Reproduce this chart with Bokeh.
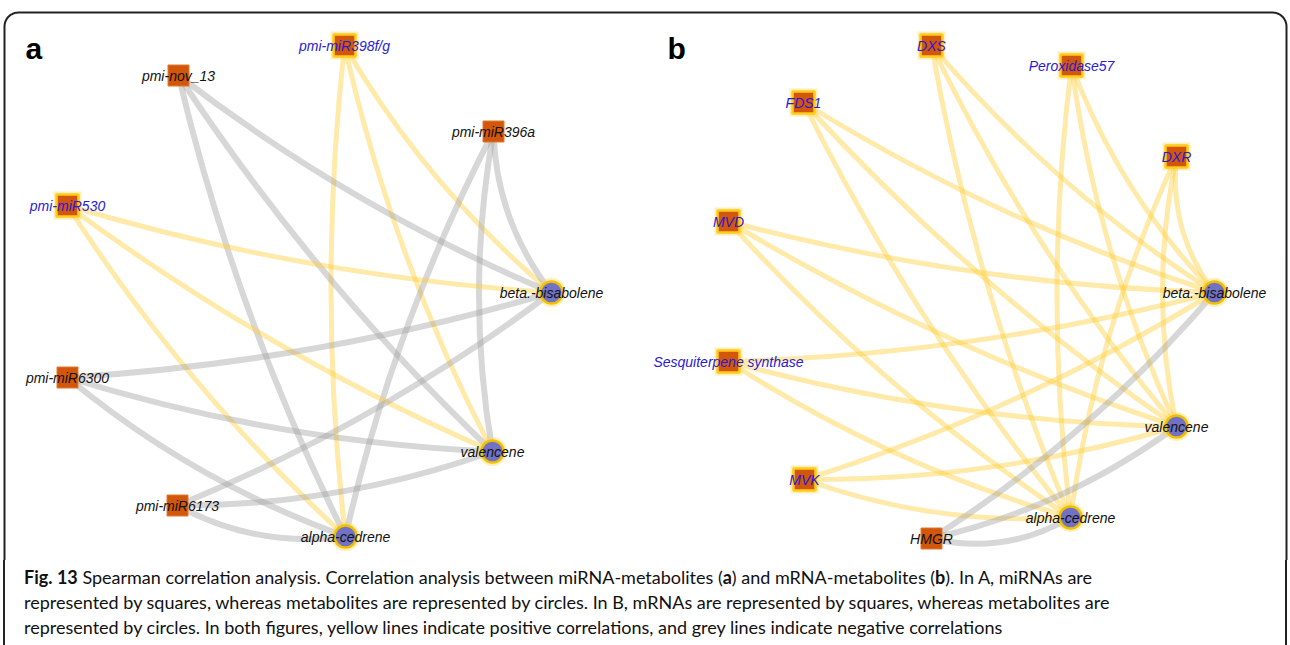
import numpy as np
from bokeh.plotting import figure
from bokeh.models import Range1d, ColumnDataSource, Div
from bokeh.layouts import column
from bokeh.embed import file_html
from bokeh.resources import INLINE
from bokeh.core.properties import value

# ---------------- data ----------------
metabolites = ["beta.-bisabolene", "valencene", "alpha-cedrene"]

# panel a : miRNA - metabolites (network layout coordinates)
a_genes = ["pmi-miR398f/g", "pmi-nov_13", "pmi-miR396a", "pmi-miR530", "pmi-miR6300", "pmi-miR6173"]
a_gene_x = [344, 178, 493, 67, 67, 177]
a_gene_y = [45, 75, 131, 205, 377, 505]
a_met_x = [551, 492, 345]
a_met_y = [292, 451, 536]
# Spearman sign of each gene-metabolite pair (+1 positive, -1 negative)
a_corr = [[1, 1, 1],
          [-1, -1, -1],
          [-1, -1, -1],
          [1, 1, 1],
          [-1, -1, -1],
          [-1, -1, -1]]

# panel b : mRNA - metabolites
b_genes = ["DXS", "Peroxidase57", "FDS1", "DXR", "MVD", "Sesquiterpene synthase", "MVK", "HMGR"]
b_gene_x = [931, 1071, 803, 1176, 728, 728, 804, 931]
b_gene_y = [45, 65, 102, 156, 221, 361, 479, 538]
b_met_x = [1214, 1176, 1070]
b_met_y = [292, 426, 517]
b_corr = [[1, 1, 1],
          [1, 1, 1],
          [1, 1, 1],
          [1, 1, 1],
          [1, 1, 1],
          [1, 1, 1],
          [1, 1, 1],
          [-1, -1, -1]]

panel_labels = ["a", "b"]
caption_line1 = [("Fig. 13", True),
                 (" Spearman correlation analysis. Correlation analysis between miRNA-metabolites (", False),
                 ("a", True), (") and mRNA-metabolites (", False), ("b", True),
                 ("). In A, miRNAs are", False)]
caption_line2 = "represented by squares, whereas metabolites are represented by circles. In B, mRNAs are represented by squares, whereas metabolites are"
caption_line3 = "represented by circles. In both figures, yellow lines indicate positive correlations, and grey lines indicate negative correlations"

# ---------------- styles ----------------
POS_EDGE = "#FFCC33"
NEG_EDGE = "#A0A0A0"
SQ_FILL = "#D2570A"
CIRC_FILL = "#7272C4"
GLOW = "#FFD84D"
BLUE = "#2A1AD6"
BLACK = "#111111"
BEND = 28.0   # control-point offset of curved edges (px)
W, H_PLOT, H_CAP = 1290, 560, 85

p = figure(width=W, height=H_PLOT, x_range=Range1d(0, W), y_range=Range1d(H_PLOT, 0),
           output_backend="svg", toolbar_location=None, x_axis_type=None, y_axis_type=None,
           min_border=0)
p.outline_line_color = None
p.background_fill_color = "white"
p.border_fill_color = "white"


def edges(gx, gy, mx, my, corr):
    d = dict(x0=[], y0=[], x1=[], y1=[], cx=[], cy=[], color=[], width=[])
    for i in range(len(gx)):
        for j in range(len(mx)):
            x0, y0, x1, y1 = gx[i], gy[i], mx[j], my[j]
            dx, dy = x1 - x0, y1 - y0
            L = np.hypot(dx, dy)
            nx, ny = -dy / L, dx / L
            d["x0"].append(x0); d["y0"].append(y0)
            d["x1"].append(x1); d["y1"].append(y1)
            d["cx"].append((x0 + x1) / 2 + BEND * nx)
            d["cy"].append((y0 + y1) / 2 + BEND * ny)
            pos = corr[i][j] > 0
            d["color"].append(POS_EDGE if pos else NEG_EDGE)
            d["width"].append(5 if pos else 6)
    return ColumnDataSource(d)


for gx, gy, mx, my, corr in [(a_gene_x, a_gene_y, a_met_x, a_met_y, a_corr),
                             (b_gene_x, b_gene_y, b_met_x, b_met_y, b_corr)]:
    src = edges(gx, gy, mx, my, corr)
    p.quadratic(x0="x0", y0="y0", x1="x1", y1="y1", cx="cx", cy="cy", source=src,
                line_color="color", line_width="width", line_alpha=0.42)


def nodes(genes, gx, gy, mx, my, corr):
    pos = [all(c > 0 for c in row) for row in corr]
    px = [x for x, q in zip(gx, pos) if q]
    py = [y for y, q in zip(gy, pos) if q]
    nx_ = [x for x, q in zip(gx, pos) if not q]
    ny_ = [y for y, q in zip(gy, pos) if not q]
    # glows
    p.scatter(px, py, marker="square", size=28, fill_color=GLOW, fill_alpha=0.4, line_color=None)
    p.scatter(mx, my, marker="circle", size=29, fill_color=GLOW, fill_alpha=0.4, line_color=None)
    # squares
    p.scatter(px, py, marker="square", size=22, fill_color=SQ_FILL, line_color="#FFCC1A", line_width=2.5)
    p.scatter(nx_, ny_, marker="square", size=21, fill_color=SQ_FILL, line_color="#E07A30", line_width=1)
    # circles
    p.scatter(mx, my, marker="circle", size=22, fill_color=CIRC_FILL, line_color="#F2C000", line_width=2.5)
    # labels
    p.text(x=list(gx), y=list(gy), text=list(genes), text_color=[BLUE if q else BLACK for q in pos],
           text_font=value("Liberation Sans"), text_font_style="italic", text_font_size="14px",
           text_align="center", text_baseline="middle")
    p.text(x=list(mx), y=list(my), text=metabolites, text_color=BLACK,
           text_font=value("Liberation Sans"), text_font_style="italic", text_font_size="14px",
           text_align="center", text_baseline="middle")


nodes(a_genes, a_gene_x, a_gene_y, a_met_x, a_met_y, a_corr)
nodes(b_genes, b_gene_x, b_gene_y, b_met_x, b_met_y, b_corr)

# panel letters
p.text(x=[25, 667], y=[48, 48], text=panel_labels, text_color="black",
       text_font=value("Liberation Sans"), text_font_style="bold", text_font_size="30px",
       text_align="left", text_baseline="middle")

# frame with rounded top corners
r = 14
L_, R_, T_, B_ = 4, 1286, 12, H_PLOT + 2
t1 = np.linspace(np.pi, 1.5 * np.pi, 12)
t2 = np.linspace(1.5 * np.pi, 2 * np.pi, 12)
fx = [L_] + list(L_ + r + r * np.cos(t1)) + list(R_ - r + r * np.cos(t2)) + [R_]
fy = [B_] + list(T_ + r + r * np.sin(t1)) + list(T_ + r + r * np.sin(t2)) + [B_]
p.line(fx, fy, line_color="#222222", line_width=2)

# caption (HTML so that bold words flow inline)
l1 = "".join(f"<b>{t}</b>" if b else t for t, b in caption_line1)
cap_html = (
    '<div style="box-sizing:border-box; width:1284px; height:85px; margin-left:3px; '
    'border-left:2px solid #222; border-right:2px solid #222; padding:5px 0 0 19px; '
    'font-family:Lato, sans-serif; font-size:18px; line-height:25px; color:#111; '
    'white-space:nowrap; background:white;">'
    f'{l1}<br>{caption_line2}<br>{caption_line3}</div>'
)
cap = Div(text=cap_html, width=W, height=H_CAP, margin=0)

layout = column(p, cap, spacing=0)
open("out.html", "w").write(file_html(layout, INLINE))
